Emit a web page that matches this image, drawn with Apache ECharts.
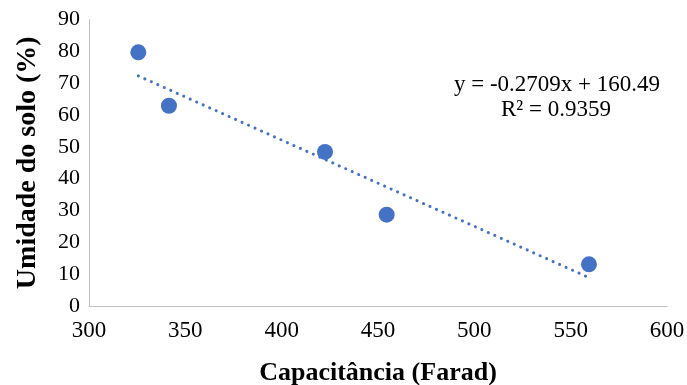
<!DOCTYPE html>
<html>
<head>
<meta charset="UTF-8">
<title>Umidade x Capacitância</title>
<script src="https://cdn.jsdelivr.net/npm/echarts@6/dist/echarts.min.js"></script>
<style>
  html, body { margin: 0; padding: 0; background: #fff; }
  #main { width: 687px; height: 385px; }
</style>
</head>
<body>
<div id="main"></div>
<script>
// dados
var capacitancia = [325.6, 341.5, 422.5, 454.5, 559.5];
var umidade = [79.7, 62.9, 48.4, 28.7, 13.1];
// linha de tendencia (coeficientes do rotulo)
var slope = -0.2709;
var intercept = 160.49;
var r2 = 0.9359;

var pontos = capacitancia.map(function (c, i) { return [c, umidade[i]]; });
var xmin = Math.min.apply(null, capacitancia);
var xmax = Math.max.apply(null, capacitancia);
var tendencia = [[xmin, slope * xmin + intercept], [xmax, slope * xmax + intercept]];

var serif = '"Liberation Serif", "Times New Roman", serif';
var myChart = echarts.init(document.getElementById('main'));
var option = {
  animation: false,
  grid: { left: 89, right: 20, top: 19.5, bottom: 79, outerBoundsMode: 'none', containLabel: false },
  xAxis: {
    type: 'value', min: 300, max: 600, interval: 50,
    name: 'Capacitância (Farad)', nameLocation: 'middle', nameGap: 54,
    nameTextStyle: { fontFamily: serif, fontSize: 26, fontWeight: 'bold', color: '#000' },
    axisLine: { show: true, lineStyle: { color: '#bfbfbf', width: 1 } },
    axisTick: { show: false },
    splitLine: { show: false },
    axisLabel: { fontFamily: serif, fontSize: 23, color: '#000', margin: 13 }
  },
  yAxis: {
    type: 'value', min: 0, max: 90, interval: 10,
    name: 'Umidade do solo (%)', nameLocation: 'middle', nameGap: 47,
    nameTextStyle: { fontFamily: serif, fontSize: 28, fontWeight: 'bold', color: '#000' },
    axisLine: { show: true, lineStyle: { color: '#bfbfbf', width: 1 } },
    axisTick: { show: false },
    splitLine: { show: false },
    axisLabel: { fontFamily: serif, fontSize: 22, color: '#000', margin: 9 }
  },
  series: [
    {
      type: 'line', data: tendencia, symbol: 'none', silent: true,
      lineStyle: { color: '#4472C4', width: 3, type: [0.1, 7], cap: 'round' },
      z: 1
    },
    {
      type: 'scatter', data: pontos, symbolSize: 16,
      itemStyle: { color: '#4472C4', opacity: 1 }, z: 2
    }
  ],
  graphic: [
    {
      type: 'text', x: 557, y: 85,
      style: { text: 'y = -0.2709x + 160.49', font: '23px ' + serif, fill: '#000', align: 'center', verticalAlign: 'middle' }
    },
    {
      type: 'text', x: 556, y: 110,
      style: { text: 'R² = ' + r2.toFixed(4), font: '23px ' + serif, fill: '#000', align: 'center', verticalAlign: 'middle' }
    }
  ]
};
myChart.setOption(option);
</script>
</body>
</html>
